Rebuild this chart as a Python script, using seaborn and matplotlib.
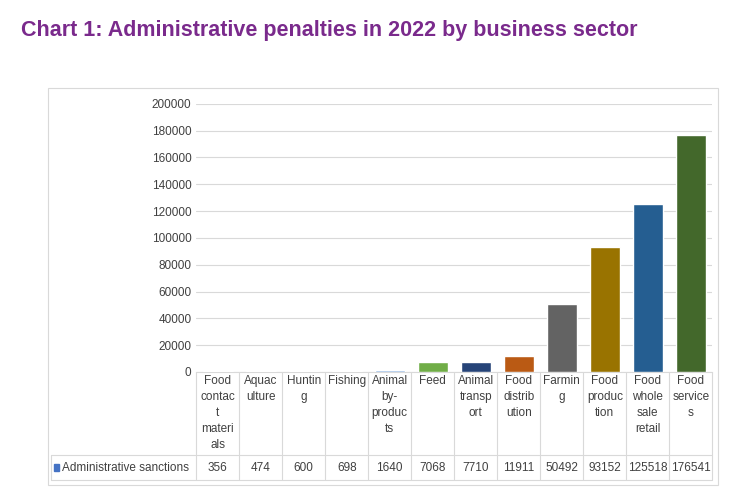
import seaborn as sns
import matplotlib.pyplot as plt
import pandas as pd
from matplotlib.patches import Rectangle

sectors = ["Food contact materials", "Aquaculture", "Hunting", "Fishing", "Animal by-products",
           "Feed", "Animal transport", "Food distribution", "Farming", "Food production",
           "Food wholesale retail", "Food services"]
wrapped = ["Food\ncontac\nt\nmateri\nals", "Aquac\nulture", "Huntin\ng", "Fishing", "Animal\nby-\nproduc\nts",
           "Feed", "Animal\ntransp\nort", "Food\ndistrib\nution", "Farmin\ng", "Food\nproduc\ntion",
           "Food\nwhole\nsale\nretail", "Food\nservice\ns"]
values = [356, 474, 600, 698, 1640, 7068, 7710, 11911, 50492, 93152, 125518, 176541]
colors = ["#4472C4", "#ED7D31", "#A5A5A5", "#FFC000", "#8FB4E3", "#70AD47",
          "#264478", "#BA5A14", "#636363", "#997300", "#255E91", "#43682B"]
df = pd.DataFrame({"sector": sectors, "value": values})

sns.set_style("white")
plt.rcParams['font.family'] = ['Liberation Sans', 'DejaVu Sans']
fig = plt.figure(figsize=(7.49, 5.04), dpi=100)
fig.text(0.028, 0.96, "Chart 1: Administrative penalties in 2022 by business sector",
         fontsize=15.5, fontweight='bold', color="#7A2A8C", va='top')
fig.patches.append(Rectangle((48/749, 1-485/504), 670/749, 397/504, transform=fig.transFigure,
                             fill=False, edgecolor="#D9D9D9", lw=0.8))

ax = fig.add_axes([0.262, 0.262, 0.689, 0.532])
sns.barplot(data=df, x="sector", y="value", hue="sector", palette=colors, legend=False,
            width=0.7, saturation=1, ax=ax, zorder=3)
ax.set_xlim(-0.5, 11.5)
ax.set_ylim(0, 200000)
ax.set_yticks(range(0, 200001, 20000))
ax.tick_params(axis='y', labelsize=8.5, colors="#404040", length=0)
ax.set_xticks([])
ax.set_xlabel("")
ax.set_ylabel("")
ax.yaxis.grid(True, color="#D9D9D9", lw=0.8, zorder=0)
for s in ["top", "right", "left"]:
    ax.spines[s].set_visible(False)
ax.spines["bottom"].set_color("#D9D9D9")

tr = ax.get_xaxis_transform()
y_bot, y_mid = -0.403, -0.31
x_left = -0.5 - (195 - 48) / 517 * 12 * 0.99
for k in range(13):
    ax.plot([k - 0.5, k - 0.5], [0, y_bot], transform=tr, color="#D9D9D9", lw=0.8, clip_on=False)
ax.plot([x_left, 11.5], [y_mid, y_mid], transform=tr, color="#D9D9D9", lw=0.8, clip_on=False)
ax.plot([x_left, 11.5], [y_bot, y_bot], transform=tr, color="#D9D9D9", lw=0.8, clip_on=False)
ax.plot([x_left, x_left], [y_mid, y_bot], transform=tr, color="#D9D9D9", lw=0.8, clip_on=False)
for i, (lab, v) in enumerate(zip(wrapped, values)):
    ax.text(i, -0.01, lab, transform=tr, ha='center', va='top', fontsize=8.5,
            color="#404040", linespacing=1.45)
    ax.text(i, (y_mid + y_bot) / 2, str(v), transform=tr, ha='center', va='center',
            fontsize=8.5, color="#404040")
ax.add_patch(Rectangle((x_left + 0.08, (y_mid + y_bot) / 2 - 0.012), 0.1, 0.024, transform=tr,
                       color="#4472C4", clip_on=False))
ax.text(x_left + 0.25, (y_mid + y_bot) / 2, "Administrative sanctions", transform=tr,
        ha='left', va='center', fontsize=8.5, color="#404040")

fig.savefig("out.png", dpi=100)
